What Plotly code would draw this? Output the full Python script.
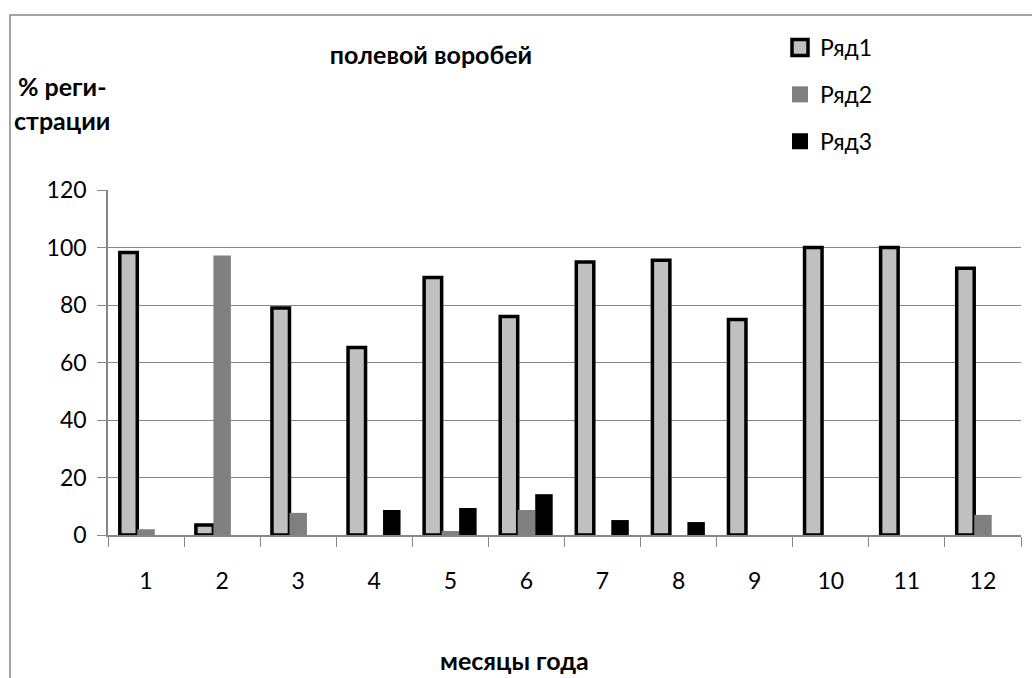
import plotly.graph_objects as go

# Monthly registration share (%) for the tree sparrow, three series
months = ["1", "2", "3", "4", "5", "6", "7", "8", "9", "10", "11", "12"]
series1 = [98.3, 3.5, 79, 65.2, 89.6, 76, 95, 95.6, 75, 100, 100, 92.8]
series2 = [2, 97.2, 7.7, 0, 1.4, 8.7, 0, 0, 0, 0, 0, 7]
series3 = [0, 0, 0, 8.7, 9.4, 14.2, 5.2, 4.5, 0, 0, 0, 0]
series_names = ["Ряд1", "Ряд2", "Ряд3"]
y_ticks = [0, 20, 40, 60, 80, 100, 120]

W, H = 1032, 678
L, R, T, B = 108, 11, 190, 143
PW, PH = W - L - R, H - T - B

FONT = "Lato, Carlito, Calibri, sans-serif"
GRID = "#868686"
LABEL_SIZE = 25
TICK_SIZE = 23


def px_x(x):
    return (x - L) / PW


def px_y(y):
    return (H - B - y) / PH


fig = go.Figure()

styles = [
    dict(color="#C0C0C0", line=dict(color="black", width=3.5)),
    dict(color="#808080", line=dict(width=0)),
    dict(color="black", line=dict(width=0)),
]
for name, vals, st in zip(series_names, [series1, series2, series3], styles):
    fig.add_trace(go.Bar(x=months, y=vals, name=name, marker=st,
                         showlegend=False))
    # legend entry with a larger square key
    fig.add_trace(go.Scatter(
        x=[None], y=[None], mode="markers", name=name, legendgroup=name,
        marker=dict(symbol="square", size=17, color=st["color"],
                    line=dict(color="black", width=3.5 if st["line"].get("width") else 0)),
    ))

fig.update_layout(
    width=W, height=H,
    margin=dict(l=L, r=R, t=T, b=B),
    paper_bgcolor="white", plot_bgcolor="white",
    barmode="group", bargap=0.31, bargroupgap=0,
    font=dict(family=FONT, color="black", size=TICK_SIZE),
    title=dict(text="<b>полевой воробей</b>", font=dict(family=FONT, size=LABEL_SIZE),
               xref="container", yref="container", x=431 / W, y=1 - 55 / H,
               xanchor="center", yanchor="middle"),
    legend=dict(x=px_x(780), y=px_y(26), xanchor="left", yanchor="top",
                traceorder="grouped", tracegroupgap=14,
                font=dict(family=FONT, size=23), bgcolor="rgba(0,0,0,0)"),
    xaxis=dict(type="category", tickson="boundaries", ticks="outside", ticklen=10,
               tickcolor=GRID, showline=True, linecolor=GRID, linewidth=1.5,
               showgrid=False, ticklabelstandoff=25,
               tickfont=dict(family=FONT, size=TICK_SIZE)),
    yaxis=dict(range=[0, 120], tickvals=y_ticks, ticks="outside", ticklen=9,
               tickcolor=GRID, showline=True, linecolor=GRID, linewidth=1.5,
               showgrid=True, gridcolor=GRID, gridwidth=1, zeroline=False,
               ticklabelstandoff=6, tickfont=dict(family=FONT, size=TICK_SIZE)),
    annotations=[
        dict(text="<b>% реги-</b>", xref="paper", yref="paper", x=px_x(16), y=px_y(86),
             xanchor="left", yanchor="middle", showarrow=False,
             font=dict(family=FONT, size=LABEL_SIZE)),
        dict(text="<b>страции</b>", xref="paper", yref="paper", x=px_x(12), y=px_y(120),
             xanchor="left", yanchor="middle", showarrow=False,
             font=dict(family=FONT, size=LABEL_SIZE)),
        dict(text="<b>месяцы года</b>", xref="paper", yref="paper", x=px_x(514), y=px_y(660),
             xanchor="center", yanchor="middle", showarrow=False,
             font=dict(family=FONT, size=LABEL_SIZE)),
    ],
    shapes=[
        dict(type="rect", xref="paper", yref="paper", x0=px_x(10), y0=px_y(15),
             x1=px_x(W + 20), y1=px_y(H + 20), line=dict(color=GRID, width=1.5),
             layer="below"),
    ],
)

fig.write_html("out.html")
